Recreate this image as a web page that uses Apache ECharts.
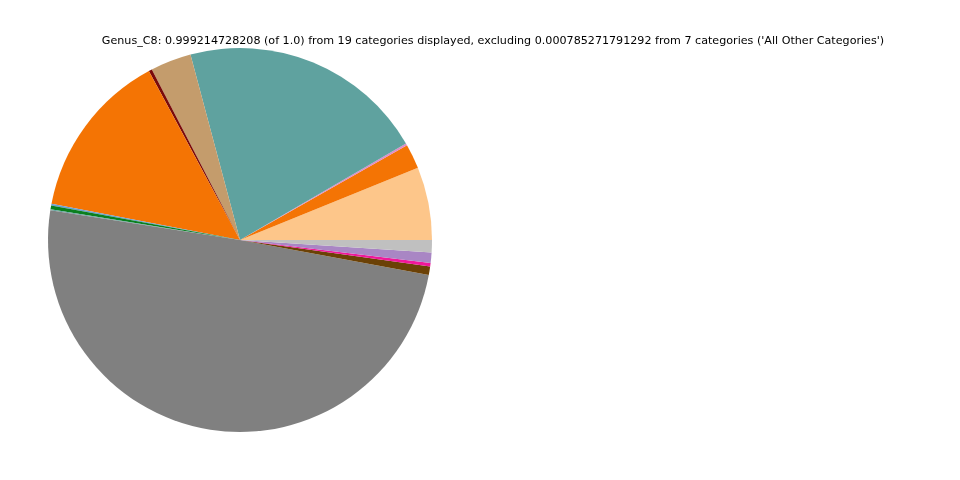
<!DOCTYPE html>
<html>
<head>
<meta charset="utf-8">
<script src="https://cdn.jsdelivr.net/npm/echarts@6/dist/echarts.min.js"></script>
<style>html,body{margin:0;padding:0;background:#fff;}#c{width:960px;height:480px;}</style>
</head>
<body>
<div id="c"></div>
<script>
var categories = ['c1','c2','c3','c4','c5','c6','c7','c8','c9','c10','c11','c12','c13','c14','c15'];
var values = [0.0614, 0.0208, 0.0017, 0.2078, 0.0344, 0.0028, 0.1411, 0.0014, 0.0033, 0.0008, 0.4958, 0.0072, 0.0028, 0.0089, 0.0103];
var colors = ['#fdc68a','#f47404','#df8cc8','#5fa29f','#c49c6c','#7a0a0a','#f47404','#6a9fd0','#0a7f1e','#5fa2a0','#808080','#6b4106','#f0179a','#a986c4','#c0c0c0'];
var titleText = "Genus_C8: 0.999214728208 (of 1.0) from 19 categories displayed, excluding 0.000785271791292 from 7 categories ('All Other Categories')";

var chart = echarts.init(document.getElementById('c'), null, {renderer: 'canvas'});
chart.setOption({
  animation: false,
  backgroundColor: '#ffffff',
  title: {
    text: titleText,
    left: 488, top: 31, textAlign: 'center',
    textStyle: {fontFamily: 'DejaVu Sans', fontSize: 11.13, fontWeight: 'normal', color: '#000'}
  },
  series: [{
    type: 'pie',
    center: [240, 240],
    radius: [0, 192],
    startAngle: 0,
    clockwise: false,
    avoidLabelOverlap: false,
    label: {show: false},
    labelLine: {show: false},
    emphasis: {disabled: true},
    itemStyle: {borderWidth: 0},
    data: categories.map(function(n, i){ return {name: n, value: values[i], itemStyle: {color: colors[i]}}; })
  }]
});
</script>
</body>
</html>
